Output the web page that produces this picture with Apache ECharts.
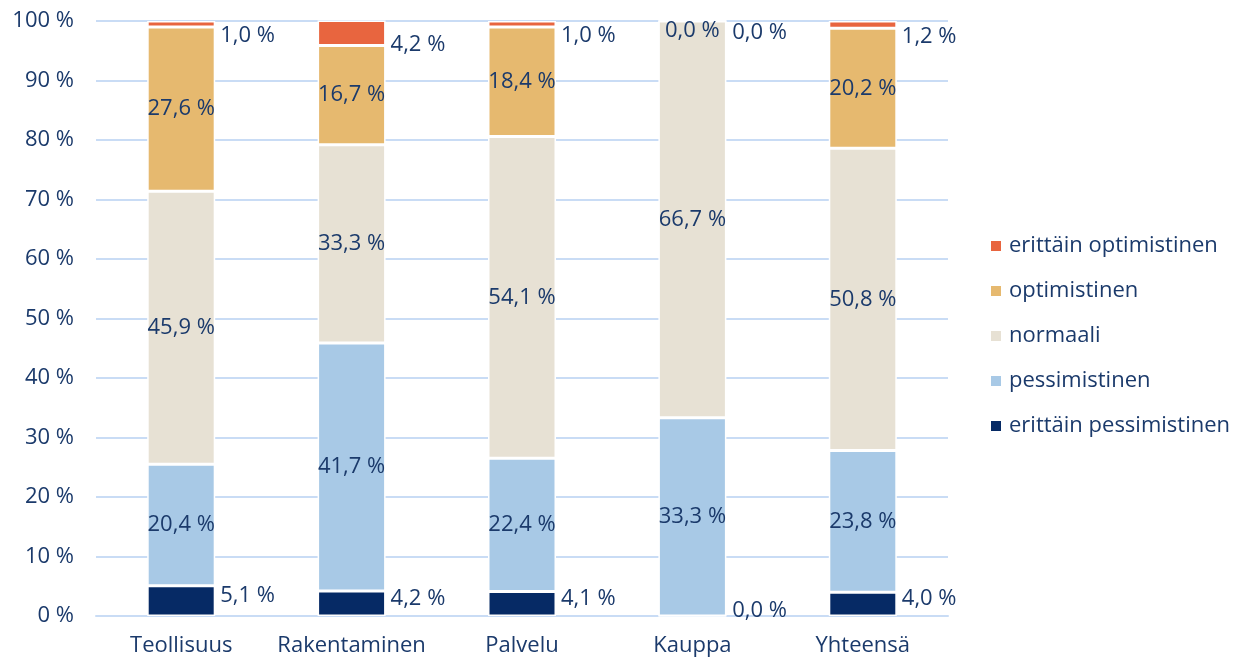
<!DOCTYPE html>
<html><head><meta charset="utf-8">
<script src="https://cdn.jsdelivr.net/npm/echarts@6/dist/echarts.min.js"></script>
<style>html,body{margin:0;padding:0;background:#fff}#c{width:1247px;height:659px}</style>
</head><body><div id="c"></div>
<script>
const categories = ['Teollisuus', 'Rakentaminen', 'Palvelu', 'Kauppa', 'Yhteensä'];
const seriesNames = ['erittäin pessimistinen', 'pessimistinen', 'normaali', 'optimistinen', 'erittäin optimistinen'];
const erittainPessimistinen = [5.1, 4.2, 4.1, 0.0, 4.0];
const pessimistinen = [20.4, 41.7, 22.4, 33.3, 23.8];
const normaali = [45.9, 33.3, 54.1, 66.7, 50.8];
const optimistinen = [27.6, 16.7, 18.4, 0.0, 20.2];
const erittainOptimistinen = [1.0, 4.2, 1.0, 0.0, 1.2];
const yTicks = [0, 10, 20, 30, 40, 50, 60, 70, 80, 90, 100];

const colors = ['#062A65', '#A8C9E6', '#E7E1D4', '#E6B96F', '#E8653F'];
const txt = '#1B3A6B';
const font = 'Open Sans';
const fs = 22;
const fmt = v => v.toFixed(1).replace('.', ',') + ' %';
const values = [erittainPessimistinen, pessimistinen, normaali, optimistinen, erittainOptimistinen];

const series = seriesNames.map((name, i) => {
  let label = { show: true, color: txt, fontFamily: font, fontSize: fs, formatter: p => fmt(p.value) };
  if (i === 0) Object.assign(label, { position: 'right', offset: [0, -5], distance: 5 });
  else if (i === 4) Object.assign(label, { position: 'right', offset: [0, 12], distance: 5 });
  else Object.assign(label, { position: 'inside' });
  const data = values[i].map(v => (i > 0 && i < 4 && v === 0) ? { value: v, label: { offset: [0, 10] } } : v);
  return {
    name, type: 'bar', stack: 'total', barWidth: 68,
    data,
    itemStyle: { color: colors[i], borderColor: '#fff', borderWidth: 1.5 },
    label
  };
});

const chart = echarts.init(document.getElementById('c'), null, { renderer: 'canvas' });
chart.setOption({
  animation: false,
  color: colors,
  grid: { left: 96, right: 299, top: 21, bottom: 43, containLabel: false },
  xAxis: {
    type: 'category', data: categories,
    axisLine: { lineStyle: { color: '#C9DCF5', width: 2 } },
    axisTick: { show: false },
    axisLabel: { color: txt, fontFamily: font, fontSize: fs, margin: 19, interval: 0 }
  },
  yAxis: {
    type: 'value', min: yTicks[0], max: yTicks[yTicks.length - 1], interval: 10,
    axisLine: { show: false }, axisTick: { show: false },
    splitLine: { lineStyle: { color: '#C9DCF5', width: 2 } },
    axisLabel: { color: txt, fontFamily: font, fontSize: fs, margin: 22, formatter: v => v + ' %' }
  },
  legend: {
    orient: 'vertical', left: 984, top: 230, itemGap: 23,
    itemWidth: 12, itemHeight: 12, icon: 'rect',
    data: seriesNames.slice().reverse(),
    textStyle: { color: txt, fontFamily: font, fontSize: fs, padding: [0, 0, 0, 2] }
  },
  series
});
</script></body></html>
